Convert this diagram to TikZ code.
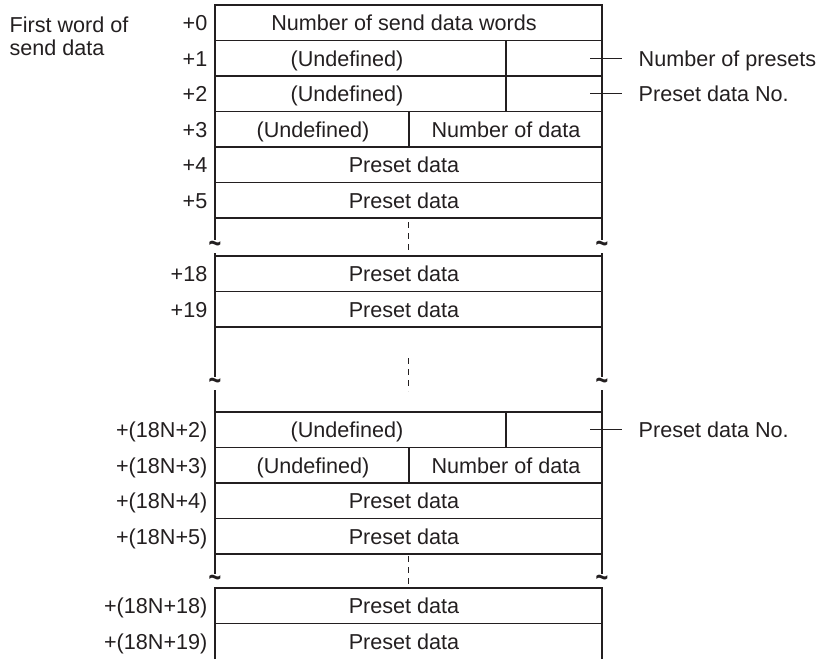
\documentclass[tikz,border=0pt]{standalone}
\usepackage{fontspec}
\setmainfont{Liberation Sans}
\usetikzlibrary{positioning}

\definecolor{ink}{RGB}{35,31,32}
\tikzset{
  txt/.style={inner sep=0pt, anchor=base, font=\fontsize{10.8}{11.6}\selectfont},
  ofs/.style={txt, anchor=base east},
  brk/.style={fill=white, inner sep=0.2pt, anchor=base, font=\fontsize{15}{15}\selectfont\bfseries},
  gapline/.style={line width=0.5pt, dash pattern=on 3pt off 2.5pt},
}
\newcommand{\brkmark}{\scalebox{0.72}[1]{\textasciitilde}}

\begin{document}
\begin{tikzpicture}[x=0.5pt, y=-0.5pt, line width=0.65pt, color=ink]
\useasboundingbox (0,0) rectangle (819,659);

% frame, open at the bottom
\draw (215,659) -- (215,5) -- (602,5) -- (602,659);

% word boundaries
\draw (215,40.5) -- (602,40.5);
\draw (215,76) -- (602,76);
\draw (215,111.5) -- (602,111.5);
\draw (215,147) -- (602,147);
\draw (215,182.5) -- (602,182.5);
\draw (215,218) -- (602,218);
\draw (215,256) -- (602,256);
\draw (215,291.5) -- (602,291.5);
\draw (215,327) -- (602,327);
\draw (215,412) -- (602,412);
\draw (215,447.5) -- (602,447.5);
\draw (215,483) -- (602,483);
\draw (215,518.5) -- (602,518.5);
\draw (215,554) -- (602,554);
\draw (215,588) -- (602,588);
\draw (215,623.5) -- (602,623.5);

% byte splits
\draw (506,40.5) -- (506,111.5);
\draw (409,111.5) -- (409,147);
\draw (506,412) -- (506,447.5);
\draw (409,447.5) -- (409,483);

% omitted words
\draw[gapline] (408.5,222) -- (408.5,254);
\draw[gapline] (408.5,358) -- (408.5,391);
\draw[gapline] (408.5,556) -- (408.5,586);
\node[brk] (brkA) at (215,253) {\brkmark};
\node[brk] (brkB) at (602,253) {\brkmark};
\node[brk] (brkC) at (215,390) {\brkmark};
\node[brk] (brkD) at (602,390) {\brkmark};
\node[brk] (brkE) at (215,587) {\brkmark};
\node[brk] (brkF) at (602,587) {\brkmark};

% start word
\node[txt, anchor=north west, align=left] (first) at (9,16) {First word of\\send data};

% offsets
\node[ofs] (o0) at (208,30.5) {+0};
\node[ofs] (o1) at (208,66) {+1};
\node[ofs] (o2) at (208,101.5) {+2};
\node[ofs] (o3) at (208,137) {+3};
\node[ofs] (o4) at (208,172.5) {+4};
\node[ofs] (o5) at (208,208) {+5};
\node[ofs] (o18) at (208,281.5) {+18};
\node[ofs] (o19) at (208,317) {+19};
\node[ofs] (on2) at (208,437.5) {+(18N+2)};
\node[ofs] (on3) at (208,473) {+(18N+3)};
\node[ofs] (on4) at (208,508.5) {+(18N+4)};
\node[ofs] (on5) at (208,544) {+(18N+5)};
\node[ofs] (on18) at (208,613.5) {+(18N+18)};
\node[ofs] (on19) at (208,649) {+(18N+19)};

% word contents
\node[txt] (w0) at (404,30.5) {Number of send data words};
\node[txt] (w1) at (347,66) {(Undefined)};
\node[txt] (w2) at (347,101.5) {(Undefined)};
\node[txt] (w3a) at (313,137) {(Undefined)};
\node[txt] (w3b) at (506,137) {Number of data};
\node[txt] (w4) at (404,172.5) {Preset data};
\node[txt] (w5) at (404,208) {Preset data};
\node[txt] (w18) at (404,281.5) {Preset data};
\node[txt] (w19) at (404,317) {Preset data};
\node[txt] (wn2) at (347,437.5) {(Undefined)};
\node[txt] (wn3a) at (313,473) {(Undefined)};
\node[txt] (wn3b) at (506,473) {Number of data};
\node[txt] (wn4) at (404,508.5) {Preset data};
\node[txt] (wn5) at (404,544) {Preset data};
\node[txt] (wn18) at (404,613.5) {Preset data};
\node[txt] (wn19) at (404,649) {Preset data};

% callouts
\coordinate (c1) at (590,58.25);
\coordinate (c2) at (590,93.75);
\coordinate (c3) at (590,429.75);
\node[txt, anchor=base west] (npre) at (638,66) {Number of presets};
\node[txt, anchor=base west] (pno) at (638,101.5) {Preset data No.};
\node[txt, anchor=base west] (pnoN) at (638,437.5) {Preset data No.};
\draw[shorten >=8pt] (c1) -- (c1 -| npre.west);
\draw[shorten >=8pt] (c2) -- (c2 -| pno.west);
\draw[shorten >=8pt] (c3) -- (c3 -| pnoN.west);
\end{tikzpicture}
\end{document}
